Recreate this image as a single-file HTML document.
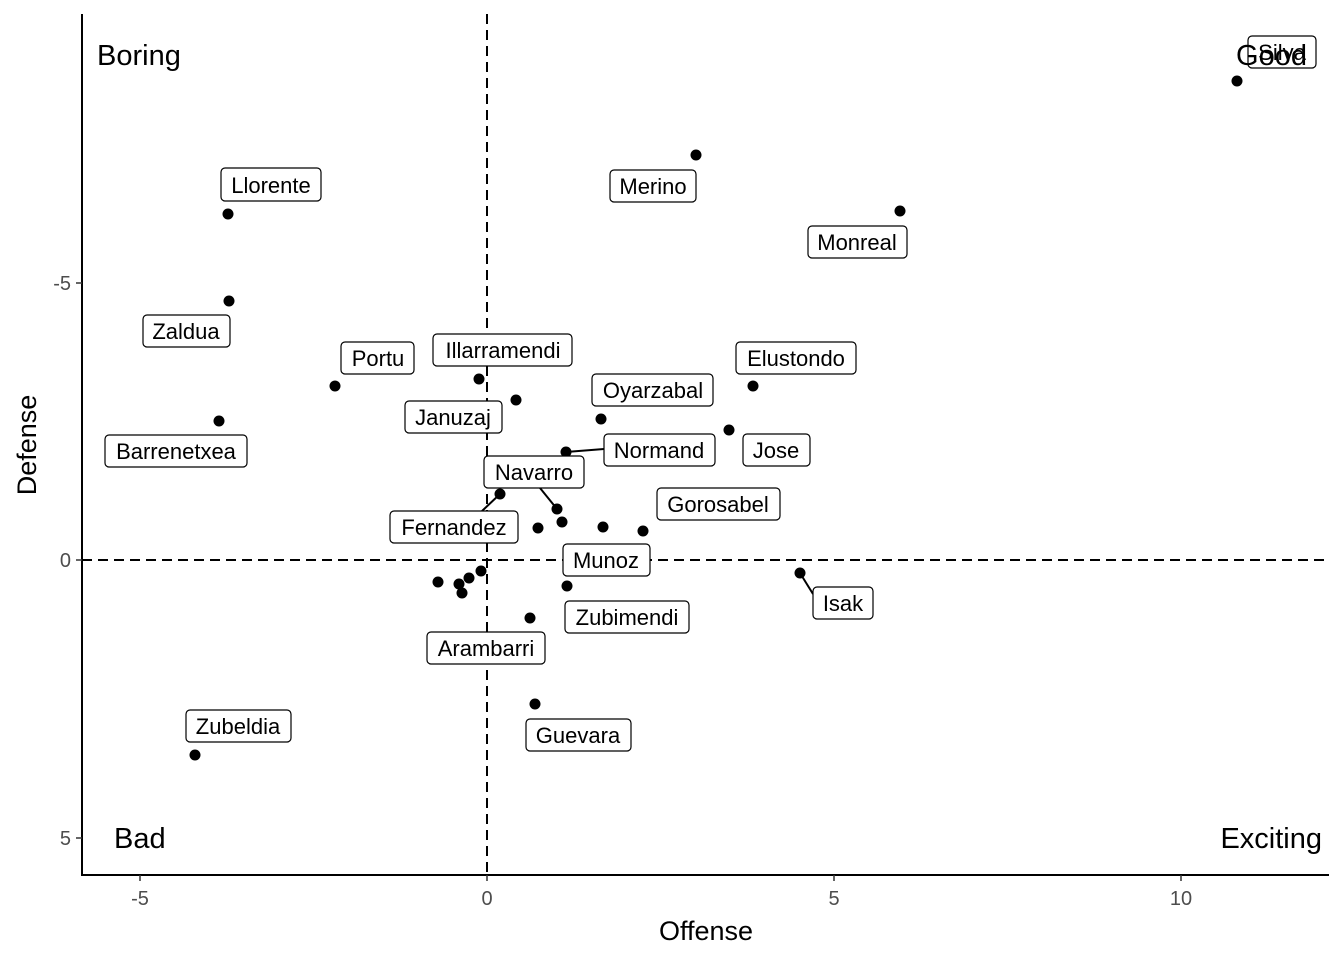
<!DOCTYPE html>
<html><head><meta charset="utf-8"><style>body{margin:0;background:#fff}svg{display:block}text{font-family:"Liberation Sans",Arial,sans-serif}</style></head>
<body>
<svg width="1344" height="960" xmlns="http://www.w3.org/2000/svg">
<rect width="1344" height="960" fill="#fff"/>
<line x1="82" y1="14" x2="82" y2="876" stroke="#000" stroke-width="2"/>
<line x1="81" y1="875" x2="1329" y2="875" stroke="#000" stroke-width="2"/>
<g stroke="#333" stroke-width="1.5">
<line x1="140" y1="875" x2="140" y2="881"/><line x1="487" y1="875" x2="487" y2="881"/><line x1="834" y1="875" x2="834" y2="881"/><line x1="1181" y1="875" x2="1181" y2="881"/>
<line x1="76" y1="283" x2="82" y2="283"/><line x1="76" y1="560" x2="82" y2="560"/><line x1="76" y1="838" x2="82" y2="838"/>
</g>
<g font-size="20" fill="#4d4d4d" text-anchor="middle">
<text x="140" y="905">-5</text><text x="487" y="905">0</text><text x="834" y="905">5</text><text x="1181" y="905">10</text>
</g>
<g font-size="20" fill="#4d4d4d" text-anchor="end">
<text x="71" y="290">-5</text><text x="71" y="567">0</text><text x="71" y="845">5</text>
</g>
<text x="706" y="940" font-size="27" text-anchor="middle">Offense</text>
<text transform="translate(36,445) rotate(-90)" font-size="27" text-anchor="middle">Defense</text>
<line x1="487" y1="14" x2="487" y2="875" stroke="#000" stroke-width="2" stroke-dasharray="10,6"/>
<line x1="82" y1="560" x2="1328" y2="560" stroke="#000" stroke-width="2" stroke-dasharray="10,6"/>
<g stroke="#000" stroke-width="2">
<line x1="566" y1="452" x2="604" y2="449"/><line x1="557" y1="509" x2="540" y2="488"/><line x1="500" y1="494" x2="482" y2="511"/><line x1="800" y1="573" x2="813" y2="594"/>
</g>
<g fill="#000">
<circle cx="1237" cy="81" r="5.5"/><circle cx="696" cy="155" r="5.5"/><circle cx="900" cy="211" r="5.5"/><circle cx="228" cy="214" r="5.5"/><circle cx="229" cy="301" r="5.5"/><circle cx="335" cy="386" r="5.5"/><circle cx="479" cy="379" r="5.5"/><circle cx="516" cy="400" r="5.5"/><circle cx="753" cy="386" r="5.5"/><circle cx="601" cy="419" r="5.5"/><circle cx="729" cy="430" r="5.5"/><circle cx="219" cy="421" r="5.5"/><circle cx="566" cy="452" r="5.5"/><circle cx="557" cy="509" r="5.5"/><circle cx="500" cy="494" r="5.5"/><circle cx="538" cy="528" r="5.5"/><circle cx="562" cy="522" r="5.5"/><circle cx="603" cy="527" r="5.5"/><circle cx="643" cy="531" r="5.5"/><circle cx="567" cy="586" r="5.5"/><circle cx="800" cy="573" r="5.5"/><circle cx="438" cy="582" r="5.5"/><circle cx="459" cy="584" r="5.5"/><circle cx="469" cy="578" r="5.5"/><circle cx="481" cy="571" r="5.5"/><circle cx="462" cy="593" r="5.5"/><circle cx="530" cy="618" r="5.5"/><circle cx="535" cy="704" r="5.5"/><circle cx="195" cy="755" r="5.5"/>
</g>
<g fill="#fff" stroke="#000" stroke-width="1.2">
<rect x="1248" y="36" width="68" height="32" rx="4"/>
<rect x="610" y="170" width="86" height="32" rx="4"/>
<rect x="808" y="226" width="99" height="32" rx="4"/>
<rect x="221" y="168" width="100" height="33" rx="4"/>
<rect x="143" y="315" width="87" height="32" rx="4"/>
<rect x="341" y="342" width="73" height="32" rx="4"/>
<rect x="433" y="334" width="139" height="32" rx="4"/>
<rect x="405" y="401" width="97" height="32" rx="4"/>
<rect x="736" y="342" width="120" height="32" rx="4"/>
<rect x="592" y="374" width="121" height="32" rx="4"/>
<rect x="743" y="434" width="67" height="32" rx="4"/>
<rect x="105" y="435" width="142" height="32" rx="4"/>
<rect x="604" y="434" width="111" height="32" rx="4"/>
<rect x="484" y="456" width="100" height="32" rx="4"/>
<rect x="390" y="511" width="128" height="32" rx="4"/>
<rect x="657" y="488" width="123" height="32" rx="4"/>
<rect x="563" y="544" width="87" height="32" rx="4"/>
<rect x="565" y="601" width="124" height="32" rx="4"/>
<rect x="813" y="587" width="60" height="32" rx="4"/>
<rect x="427" y="632" width="118" height="32" rx="4"/>
<rect x="526" y="719" width="105" height="32" rx="4"/>
<rect x="186" y="710" width="105" height="32" rx="4"/>
</g>
<g font-size="22" text-anchor="middle" fill="#000">
<text x="1282" y="60">Silva</text>
<text x="653" y="194">Merino</text>
<text x="857" y="250">Monreal</text>
<text x="271" y="193">Llorente</text>
<text x="186" y="339">Zaldua</text>
<text x="378" y="366">Portu</text>
<text x="503" y="358">Illarramendi</text>
<text x="453" y="425">Januzaj</text>
<text x="796" y="366">Elustondo</text>
<text x="653" y="398">Oyarzabal</text>
<text x="776" y="458">Jose</text>
<text x="176" y="459">Barrenetxea</text>
<text x="659" y="458">Normand</text>
<text x="534" y="480">Navarro</text>
<text x="454" y="535">Fernandez</text>
<text x="718" y="512">Gorosabel</text>
<text x="606" y="568">Munoz</text>
<text x="627" y="625">Zubimendi</text>
<text x="843" y="611">Isak</text>
<text x="486" y="656">Arambarri</text>
<text x="578" y="743">Guevara</text>
<text x="238" y="734">Zubeldia</text>
</g>
<g font-size="29">
<text x="97" y="65">Boring</text><text x="114" y="848">Bad</text><text x="1322" y="848" text-anchor="end">Exciting</text><text x="1307" y="65" text-anchor="end">Good</text>
</g>
</svg>
</body></html>
